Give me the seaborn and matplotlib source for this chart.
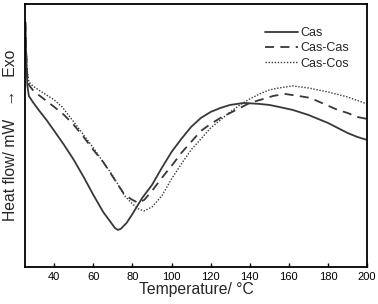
import matplotlib
matplotlib.use("Agg")
import matplotlib.pyplot as plt
import seaborn as sns

# DSC traces (y is in arbitrary heat-flow units, exo up)
cas_t = [25.2, 25.6, 26.2, 27, 29, 32, 36, 40, 45, 50, 55, 60, 65, 68, 71, 72.5, 74, 77, 80, 85, 90, 95,
         100, 105, 110, 115, 120, 125, 130, 137, 145, 150, 155, 162, 170, 180, 185, 190, 195, 200]
cas_hf = [245, 212, 182, 171, 165, 157, 147, 136, 122, 107, 90, 72, 55, 47, 39, 37, 38, 44, 53, 69, 82, 99,
          115, 128, 140, 149, 155, 159, 162, 164, 163, 162, 160, 157, 152, 144, 139, 134, 130, 127]

cascas_t = [25.2, 25.6, 26.2, 27, 29, 32, 36, 40, 45, 50, 55, 60, 65, 70, 76, 80, 83, 86, 90, 95,
            100, 105, 110, 115, 120, 125, 130, 135, 140, 147, 152, 158, 165, 171, 178, 185, 190, 195, 200]
cascas_hf = [245, 217, 192, 182, 177, 172, 166, 160, 152, 142, 130, 117, 105, 90, 72, 67, 64, 67, 76, 89,
             101, 114, 125, 136, 143, 149, 154, 159, 164, 168, 171, 173, 171, 169, 163, 157, 154, 150, 148]

cascos_t = [25.2, 25.6, 26.2, 27, 29, 32, 36, 40, 44, 50, 55, 60, 65, 70, 76, 80, 83, 86, 90, 95,
            100, 105, 110, 115, 120, 125, 130, 135, 140, 145, 150, 155, 162, 170, 180, 190, 200]
cascos_hf = [245, 217, 195, 185, 181, 177, 172, 167, 160, 145, 132, 119, 105, 91, 71, 63, 58, 56, 60, 71,
             88, 103, 117, 128, 139, 147, 155, 162, 168, 173, 177, 179, 181, 179, 175, 170, 163]

x_ticks = [40, 60, 80, 100, 120, 140, 160, 180, 200]

sns.set_theme(style="ticks")
plt.rcParams["font.family"] = ["Liberation Sans", "DejaVu Sans"]

fig = plt.figure(figsize=(3.78, 3.04), dpi=100)
ax = fig.add_axes([0.066, 0.122, 0.905, 0.865])

ink = "#383838"
sns.lineplot(x=cas_t, y=cas_hf, ax=ax, color=ink, linewidth=1.3, label="Cas", sort=False)
sns.lineplot(x=cascas_t, y=cascas_hf, ax=ax, color=ink, linewidth=1.3, label="Cas-Cas", sort=False,
             linestyle=(0, (5, 3.5)))
sns.lineplot(x=cascos_t, y=cascos_hf, ax=ax, color=ink, linewidth=1.0, label="Cas-Cos", sort=False,
             linestyle=(0, (1, 1.2)))

ax.set_xlim(25, 200)
ax.set_ylim(0, 263)
ax.set_xticks(x_ticks)
ax.set_yticks([])
ax.tick_params(axis="x", direction="in", length=3, width=1, labelsize=8, pad=4, colors="black")
for spine in ax.spines.values():
    spine.set_visible(True)
    spine.set_linewidth(1.3)
    spine.set_color("black")

ax.set_xlabel("Temperature/ \u00b0C", fontsize=11.3, labelpad=0)
ax.set_ylabel("Heat flow/ mW   \u2192   Exo", fontsize=11.3, labelpad=5)

ax.legend(loc="upper right", bbox_to_anchor=(0.965, 0.935), frameon=False, fontsize=9,
          handlelength=2.6, handletextpad=0.2, labelspacing=0.25, borderpad=0)

fig.savefig("out.png", dpi=100)
